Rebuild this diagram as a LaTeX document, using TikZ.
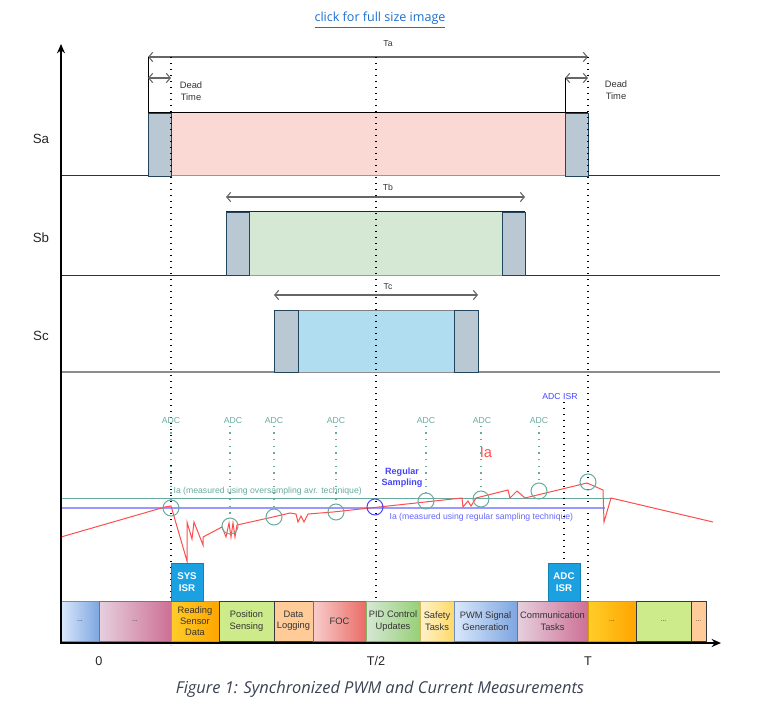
\documentclass[tikz,border=0pt]{standalone}
\usepackage{fontspec}
\setmainfont{Liberation Sans}
\newfontfamily\capfont{Open Sans}
\usepackage{xcolor}
\usepackage{tikz}
\usetikzlibrary{arrows,arrows.meta,shapes,positioning}

\definecolor{deadgrey}{HTML}{BAC8D3}
\definecolor{deadedge}{HTML}{23445D}
\definecolor{pinkfill}{HTML}{FAD9D5}
\definecolor{pinkedge}{HTML}{E07A6A}
\definecolor{greenfill}{HTML}{D5E8D4}
\definecolor{greenedge}{HTML}{82B366}
\definecolor{bluefill}{HTML}{B1DDF0}
\definecolor{blueedge}{HTML}{10739E}
\definecolor{adcgreen}{HTML}{67AB9F}
\definecolor{reglight}{HTML}{9999FF}
\definecolor{regtext}{HTML}{6666FF}
\definecolor{regdark}{HTML}{4444FF}
\definecolor{isrblue}{HTML}{1BA1E2}
\definecolor{linkblue}{HTML}{1A6FD1}
\definecolor{wavered}{HTML}{FF4D4D}
\definecolor{captext}{HTML}{3A4150}
% task colours
\definecolor{tbL}{HTML}{DAE8FC}\definecolor{tbR}{HTML}{7EA6E0}\definecolor{tbE}{HTML}{6C8EBF}
\definecolor{tpL}{HTML}{E6D0DE}\definecolor{tpR}{HTML}{CD7096}\definecolor{tpE}{HTML}{996185}
\definecolor{toL}{HTML}{FFCD28}\definecolor{toR}{HTML}{FFA500}\definecolor{toE}{HTML}{D79B00}
\definecolor{tlime}{HTML}{CDEB8B}\definecolor{tpeach}{HTML}{FFCC99}\definecolor{tdark}{HTML}{36393D}
\definecolor{trL}{HTML}{F8CECC}\definecolor{trR}{HTML}{EA6B66}\definecolor{trE}{HTML}{B85450}
\definecolor{tgL}{HTML}{D5E8D4}\definecolor{tgR}{HTML}{97D077}\definecolor{tgE}{HTML}{82B366}
\definecolor{tyL}{HTML}{FFF2CC}\definecolor{tyR}{HTML}{FFD966}\definecolor{tyE}{HTML}{D6B656}

\begin{document}
\begin{tikzpicture}[x=0.75pt, y=-0.75pt, >={Straight Barb[length=3pt,width=7pt]}]

	\tikzstyle{lbl}=[font=\fontsize{6.5}{8}\selectfont, text=black!80, inner sep=1pt]
	\tikzstyle{sig}=[font=\fontsize{10}{12}\selectfont, text=black!85]
	\tikzstyle{dim}=[<->, draw=black!60, line width=0.8pt]
	\tikzstyle{blackdots}=[line width=1.1pt, dash pattern=on 1.1pt off 3.4pt]
	\tikzstyle{dead}=[fill=deadgrey, draw=deadedge, line width=0.6pt]
	\tikzstyle{baseln}=[draw=black!80, line width=0.75pt]
	\tikzstyle{task}=[draw, minimum height=30pt, inner sep=0pt, outer sep=0pt, align=center, font=\fontsize{7}{8.5}\selectfont, text=black!80, line width=0.75pt]
	\tikzstyle{isr}=[fill=isrblue, draw=isrblue!80!black, text=white, minimum width=24pt, minimum height=28.5pt, inner sep=0pt, outer sep=0pt, align=center, font=\bfseries\fontsize{7.3}{8.7}\selectfont]
	\tikzstyle{adclbl}=[font=\fontsize{6.5}{8}\selectfont, text=adcgreen, inner sep=1pt]
	\tikzstyle{smpl}=[circle, draw=adcgreen, line width=0.75pt, minimum size=12pt, inner sep=0pt]
	\tikzstyle{adcdot}=[draw=adcgreen, line width=1pt, dash pattern=on 1pt off 4pt]

	\useasboundingbox (0,0) rectangle (782,706);

	\node[font=\capfont\fontsize{9.4}{11}\selectfont, text=linkblue] (link) at (380,20) {\underline{click for full size image}};

	% base lines of the three phases
	\draw[baseln] (61,176) -- (720,176);
	\draw[baseln] (61,275) -- (720,275);
	\draw[baseln, draw=black!45, line width=1pt] (61,372) -- (720,372);

	% Sa
	\fill[pinkfill] (171,113) rectangle (565,176);
	\draw[pinkedge, line width=0.75pt] (171,176) -- (565,176);
	\draw[black, line width=0.75pt] (148,113) -- (588,113);
	\draw[dead] (148,113) rectangle (171,176);
	\draw[dead] (565,113) rectangle (588,176);
	\node[sig] (Sa) at (41,139) {Sa};

	% Sb
	\fill[greenfill] (249,212) rectangle (502,275);
	\draw[greenedge, line width=0.75pt] (249,275) -- (502,275);
	\draw[black!85, line width=0.75pt] (226,212) -- (525,212);
	\draw[dead] (226,212) rectangle (249,275);
	\draw[dead] (502,212) rectangle (525,275);
	\node[sig] (Sb) at (41,238) {Sb};

	% Sc
	\fill[bluefill] (298,310) rectangle (454,372);
	\draw[black!50, line width=0.75pt] (274,310) -- (478,310);
	\draw[dead] (274,310) rectangle (298,372);
	\draw[dead] (454,310) rectangle (478,372);
	\node[sig] (Sc) at (41,336) {Sc};

	% widths and dead times
	\coordinate (taL) at (148,57);
	\coordinate (taR) at (588,57);
	\draw[dim] (taL) -- (taR);
	\node[lbl] (Ta) at (388,44) {Ta};
	\draw[black, line width=0.6pt] (taL) -- (148,113);
	\coordinate (d1L) at (148,78);
	\coordinate (d1R) at (171,78);
	\draw[dim] (d1L) -- (d1R);
	\coordinate (d2L) at (565,78);
	\coordinate (d2R) at (588,78);
	\draw[dim] (d2L) -- (d2R);
	\draw[black, line width=0.6pt] (d2L) -- (565,113);
	\node[lbl, align=center, font=\fontsize{7}{9}\selectfont] (dt1) at (191,91) {Dead\\Time};
	\node[lbl, align=center, font=\fontsize{7}{9}\selectfont] (dt2) at (616,90) {Dead\\Time};
	\coordinate (tbL) at (226,197);
	\coordinate (tbR) at (525,197);
	\draw[dim] (tbL) -- (tbR);
	\node[lbl] (Tb) at (388,187) {Tb};
	\coordinate (tcL) at (274,295);
	\coordinate (tcR) at (478,295);
	\draw[dim] (tcL) -- (tcR);
	\node[lbl] (Tc) at (388,287) {Tc};

	% time marks
	\draw[blackdots] (171,57) -- (171,645);
	\draw[blackdots] (376,57) -- (376,601);
	\draw[blackdots] (588,57) -- (588,601);

	% measured levels
	\draw[adcgreen, line width=0.75pt] (61,498) -- (611,498);
	\draw[reglight, line width=1pt] (61,508) -- (605,508);
	\node[adclbl, anchor=west] (ovs) at (172,491) {Ia (measured using oversampling avr. technique)};
	\node[lbl, anchor=west, text=regtext] (reg) at (388,517) {Ia (measured using regular sampling technique)};
	\node[lbl, align=center, text=regdark, font=\bfseries\fontsize{6.8}{8.4}\selectfont] (regs) at (402,478) {Regular\\Sampling};

	% current
	\draw[wavered, line width=0.75pt] (61,537) -- (165,507) -- (171,506) -- (187,561) -- (187,522) -- (192,539) -- (194,522) -- (203,545) -- (203,537) -- (222,527) -- (226,537) -- (229,523) -- (231,537) -- (233,523) -- (235,537) -- (237,525) -- (273,517) -- (290,513) -- (296,514) -- (298,522) -- (301,516) -- (304,522) -- (308,514) -- (333,512) -- (462,498) -- (463,507) -- (468,501) -- (471,506) -- (476,498) -- (508,490) -- (510,498) -- (517,491) -- (525,498) -- (587,483) -- (603,490) -- (604,522) -- (611,498) -- (713,522);
	\node[sig, text=wavered, font=\fontsize{11}{13}\selectfont] (ia) at (486,453) {Ia};

	% ADC samples
	\foreach \lx/\cx/\cy [count=\i] in {171/171/508, 233/230/526, 274/274/517, 336/336/512, 426/426/501, 482/481/499, 539/539/491}{
		\node[adclbl] (adc\i) at (\lx,421) {ADC};
		\node[smpl] (s\i) at (\cx,\cy) {};
		\draw[adcdot] (adc\i.south -| s\i) -- (s\i.north);
	}
	\node[smpl, draw=regdark] (sreg) at (375,507) {};
	\node[smpl] (send) at (588,482) {};

	% tasks
	\node[task, anchor=south west, minimum width=28.5pt, left color=tbL, right color=tbR, draw=tbE] (t1) at (61,641) {\tiny ...};
	\node[task, right=0pt of t1, minimum width=54pt, left color=tpL, right color=tpR, draw=tpE] (t2) {\tiny ...};
	\node[task, right=0pt of t2, minimum width=36pt, left color=toL, right color=toR, draw=toE] (t3) {Reading\\Sensor\\Data};
	\node[task, right=0pt of t3, minimum width=41.25pt, fill=tlime, draw=tdark] (t4) {Position\\Sensing};
	\node[task, right=0pt of t4, minimum width=29.25pt, fill=tpeach, draw=tdark] (t5) {Data\\Logging};
	\node[task, right=0pt of t5, minimum width=39.75pt, left color=trL, right color=trR, draw=trE] (t6) {FOC};
	\node[task, right=0pt of t6, minimum width=40.5pt, left color=tgL, right color=tgR, draw=tgE] (t7) {PID Control\\Updates};
	\node[task, right=0pt of t7, minimum width=25.5pt, left color=tyL, right color=tyR, draw=tyE] (t8) {Safety\\Tasks};
	\node[task, right=0pt of t8, minimum width=47.25pt, left color=tbL, right color=tbR, draw=tbE] (t9) {PWM Signal\\Generation};
	\node[task, right=0pt of t9, minimum width=53.25pt, left color=tpL, right color=tpR, draw=tpE] (t10) {Communication\\Tasks};
	\node[task, right=0pt of t10, minimum width=36pt, left color=toL, right color=toR, draw=toE] (t11) {\tiny ...};
	\node[task, right=0pt of t11, minimum width=41.25pt, fill=tlime, draw=tdark] (t12) {\tiny ...};
	\node[task, right=0pt of t12, minimum width=11.25pt, fill=tpeach, draw=tdark] (t13) {\tiny ...};

	% interrupts
	\node[isr, anchor=south west] (sys) at (t3.north west) {SYS\\ISR};
	\node[isr, anchor=south east] (adcisr) at ([xshift=-6pt]t10.north east) {ADC\\ISR};
	\node[lbl, text=regdark] (adcisrl) at (560,397) {ADC ISR};
	\draw[blackdots] (adcisrl.south -| adcisr) -- (adcisr.north);

	% axes
	\draw[line width=1.5pt, -{Stealth[length=7pt,width=6pt]}] (61,643) -- (61,44);
	\draw[line width=1.5pt, -{Stealth[length=7pt,width=6pt]}] (60,643) -- (721,643);
	\node[font=\fontsize{9.5}{11}\selectfont, text=black!85] (zero) at (99,661) {0};
	\node[font=\fontsize{9.5}{11}\selectfont, text=black!85] (half) at (376,661) {T/2};
	\node[font=\fontsize{9.5}{11}\selectfont, text=black!85] (full) at (588,661) {T};

	\node[font=\capfont\itshape\fontsize{12.3}{15}\selectfont, text=captext] (cap) at (380,689) {Figure 1: Synchronized PWM and Current Measurements};

\end{tikzpicture}
\end{document}
